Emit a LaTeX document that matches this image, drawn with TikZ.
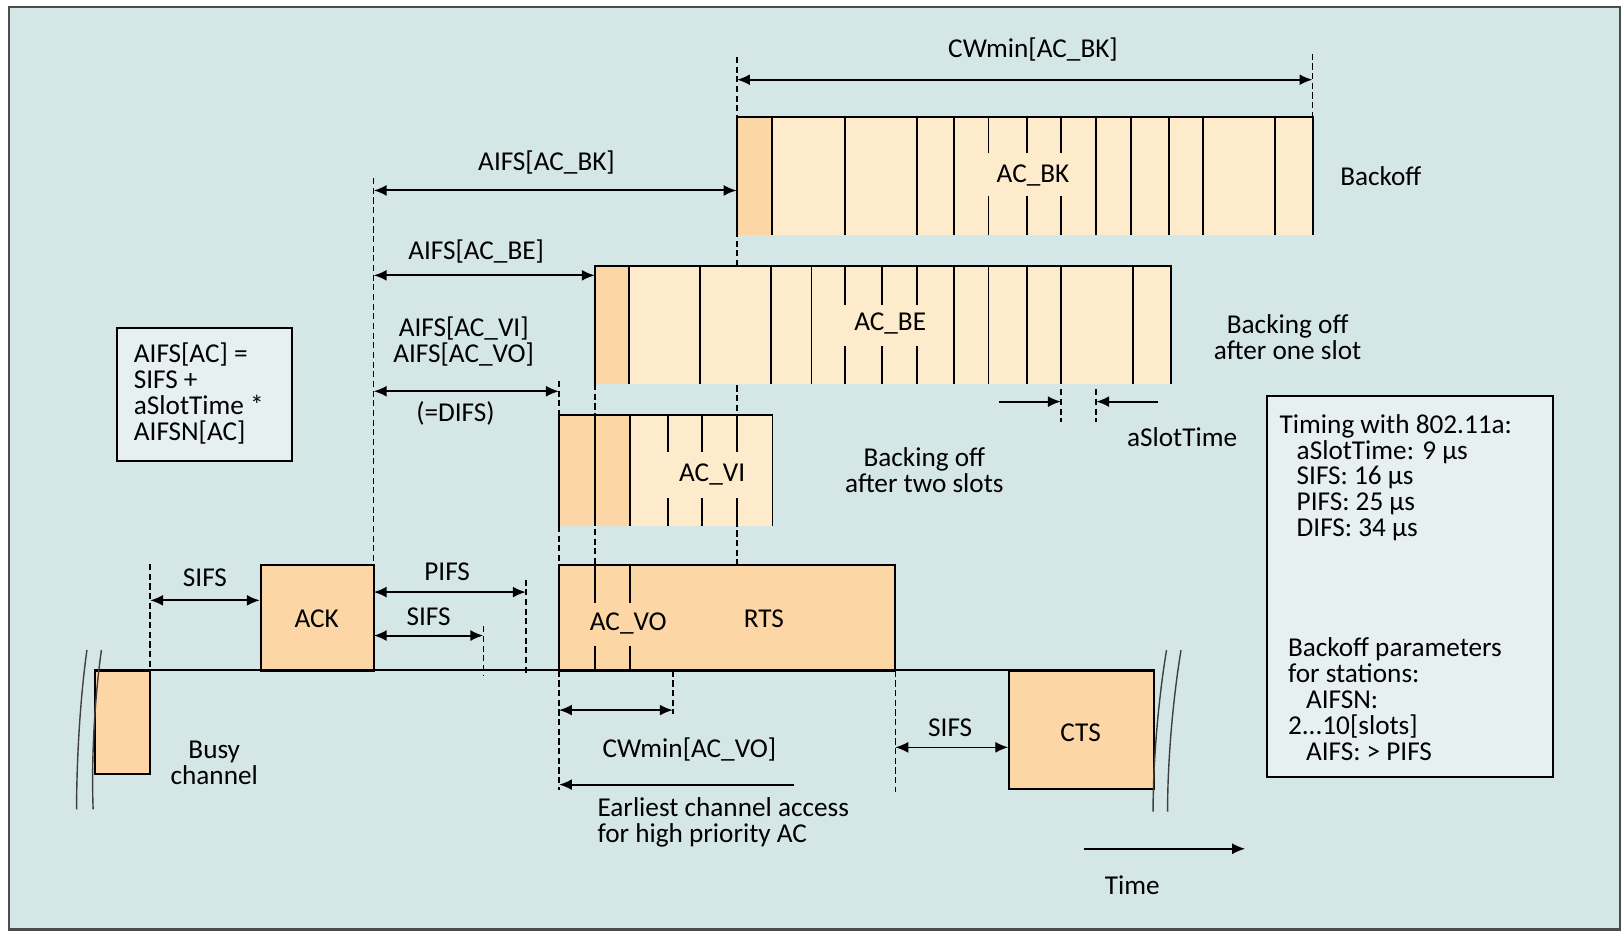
\documentclass[tikz,border=0pt]{standalone}
\usepackage{fontspec}
\setmainfont{Carlito}
\usepackage{xcolor}
\usetikzlibrary{positioning,arrows.meta,fit}

\definecolor{panel}{HTML}{D5E6E6}
\definecolor{note}{HTML}{E7F0F0}
\definecolor{busy}{HTML}{FDD6A6}
\definecolor{idle}{HTML}{FDEBCC}

\begin{document}
\begin{tikzpicture}[
  x=0.0207cm, y=-0.0207cm,
  font=\fontsize{15.5}{14.7}\selectfont,
  pkt/.style     = {draw, line width=1.1pt, fill=busy, inner sep=0pt},
  backoff/.style = {fill=idle, inner sep=0pt},
  notebox/.style = {draw, line width=1.1pt, fill=note, inner sep=0pt},
  lbl/.style     = {inner sep=1pt, align=center},
  txt/.style     = {inner sep=0pt, align=left, anchor=north west},
  guide/.style   = {line width=0.9pt, dash pattern=on 3.5pt off 2pt},
  slot/.style    = {line width=1.1pt},
  brk/.style     = {line width=0.8pt, black!75},
  dim/.style     = {{Latex[length=2.6mm,width=2.2mm]}-{Latex[length=2.6mm,width=2.2mm]}, line width=1.1pt},
  flow/.style    = {-{Latex[length=2.6mm,width=2.2mm]}, line width=1.1pt},
]

% ---------- panel ----------
\useasboundingbox (0,0) rectangle (1568,900);
\draw[draw=black!70, line width=1.3pt, fill=panel] (9,7) rectangle (1565,898);

% ---------- guide lines ----------
\draw[guide] (145,545) -- (145,648);
\draw[guide] (361,172) -- (361,546);
\draw[guide] (467,605) -- (467,653);
\draw[guide] (508,560) -- (508,653);
\draw[guide] (540,368) -- (540,763);
\draw[guide] (575,371) -- (575,546);
\draw[guide] (650,648) -- (650,690);
\draw[guide] (712,55) -- (712,546);
\draw[guide] (865,648) -- (865,765);
\draw[guide] (1268,52) -- (1268,113);
\draw[guide] (1025,376) -- (1025,408);
\draw[guide] (1059,376) -- (1059,408);

% ---------- backoff AC_BK ----------
\node[backoff, fit={(712,113)(1268,227)}] (bk) {};
\fill[busy] (bk.north west) rectangle (746,227);
\draw[slot] (bk.south west) -- (bk.north west) -- (bk.north east) -- (bk.south east);
\foreach \x in {746,816,886,922,1059,1093,1129,1162,1232}
  \draw[slot] (\x,113) -- (\x,227);
\foreach \x in {955,992,1025}
  \draw[slot] (\x,113) -- (\x,148) (\x,189) -- (\x,227);
\node[lbl] (bklbl) at (998,170) {AC\_BK};
\node[lbl] (bkside) at (1334,170) {Backoff};

% ---------- backoff AC_BE ----------
\node[backoff, fit={(575,257)(1131,371)}] (be) {};
\fill[busy] (be.north west) rectangle (608,371);
\draw[slot] (be.south west) -- (be.north west) -- (be.north east) -- (be.south east);
\foreach \x in {608,676,745,784,922,955,992,1025,1095}
  \draw[slot] (\x,257) -- (\x,371);
\foreach \x in {816,852,886}
  \draw[slot] (\x,257) -- (\x,295) (\x,334) -- (\x,371);
\node[lbl] (belbl) at (860,313) {AC\_BE};
\node[lbl] (beside) at (1244,326) {Backing off\\after one slot};

% ---------- backoff AC_VI ----------
\node[backoff, fit={(540,401)(746,508)}] (vi) {};
\fill[busy] (vi.north west) rectangle (609,508);
\draw[slot] (vi.south west) -- (vi.north west) -- (vi.north east) -- (vi.south east);
\draw[slot] (575,401) -- (575,508) (609,401) -- (609,508);
\foreach \x in {645,678,712}
  \draw[slot] (\x,401) -- (\x,437) (\x,481) -- (\x,508);
\node[lbl] (vilbl) at (688,458) {AC\_VI};
\node[lbl] (viside) at (893,454) {Backing off\\after two slots};

% ---------- channel ----------
\node[pkt, fit={(92,648)(145,748)}] (busybox) {};
\node[lbl] (busylbl) at (207,737) {Busy\\channel};
\node[pkt, fit={(252,546)(361,648)}] (ack) {};
\node[lbl] (acklbl) at (306,598) {ACK};
\node[pkt, fit={(540,546)(865,648)}] (rts) {};
\node[lbl] (rtslbl) at (738,598) {RTS};
\draw[slot] (575,546) -- (575,583) (575,624) -- (575,648)
            (609,546) -- (609,583) (609,624) -- (609,648);
\node[lbl] (volbl) at (607,602) {AC\_VO};
\node[pkt, fit={(975,648)(1115,762)}] (cts) {};
\node[lbl] (ctslbl) at (1044,708) {CTS};
\draw[slot] (busybox.north west) -- (cts.north east);

% line breaks
\draw[brk] (84,628) .. controls (78,670) and (74,730) .. (74,782);
\draw[brk] (98,628) .. controls (92,670) and (88,730) .. (90,782);
\draw[brk] (1127,628) .. controls (1120,670) and (1114,730) .. (1114,784);
\draw[brk] (1141,628) .. controls (1134,670) and (1128,730) .. (1128,784);

% ---------- intervals ----------
\coordinate (cwbkL) at (712,77);
\coordinate (cwbkR) at (1268,77);
\draw[dim] (cwbkL) -- (cwbkR);
\node[lbl] (cwbklbl) at (998,48) {CWmin[AC\_BK]};

\coordinate (aifsbk) at (361,184);
\draw[dim] (aifsbk) -- (bk.west |- aifsbk);
\node[lbl] (aifsbklbl) at (528,157) {AIFS[AC\_BK]};

\coordinate (aifsbe) at (361,266);
\draw[dim] (aifsbe) -- (be.west |- aifsbe);
\node[lbl] (aifsbelbl) at (460,243) {AIFS[AC\_BE]};

\coordinate (difsL) at (361,378);
\coordinate (difsR) at (540,378);
\draw[dim] (difsL) -- (difsR);
\node[lbl] (aifsvilbl) at (448,330) {AIFS[AC\_VI]\\AIFS[AC\_VO]};
\node[lbl] (difslbl) at (440,399) {(=DIFS)};

\coordinate (slotA) at (965,388);
\coordinate (slotB) at (1025,388);
\coordinate (slotC) at (1119,388);
\coordinate (slotD) at (1059,388);
\draw[flow] (slotA) -- (slotB);
\draw[flow] (slotC) -- (slotD);
\node[lbl] (slotlbl) at (1142,422) {aSlotTime};

\coordinate (sifsA) at (145,580);
\draw[dim] (sifsA) -- (ack.west |- sifsA);
\node[lbl] (sifsAlbl) at (198,558) {SIFS};

\coordinate (pifsL) at (361,572);
\coordinate (pifsR) at (508,572);
\draw[dim] (pifsL) -- (pifsR);
\node[lbl] (pifslbl) at (432,552) {PIFS};

\coordinate (sifsL) at (361,614);
\coordinate (sifsR) at (467,614);
\draw[dim] (sifsL) -- (sifsR);
\node[lbl] (sifslbl) at (414,596) {SIFS};

\coordinate (cwvoL) at (540,686);
\coordinate (cwvoR) at (650,686);
\draw[dim] (cwvoL) -- (cwvoR);
\node[lbl] (cwvolbl) at (666,724) {CWmin[AC\_VO]};

\coordinate (earlyA) at (767,758);
\coordinate (earlyB) at (540,758);
\draw[flow] (earlyA) -- (earlyB);
\node[txt] (earlylbl) at (577,770) {Earliest channel access\\for high priority AC};

\coordinate (sifsC) at (865,722);
\draw[dim, line width=0.8pt] (sifsC) -- (cts.west |- sifsC);
\node[lbl] (sifsClbl) at (918,703) {SIFS};

\coordinate (timeA) at (1047,820);
\coordinate (timeB) at (1203,820);
\draw[flow] (timeA) -- (timeB);
\node[lbl] (timelbl) at (1094,855) {Time};

% ---------- notes ----------
\node[notebox, fit={(113,317)(282,445)}] (aifsnote) {};
\node[txt] (aifstxt) at (129,331) {AIFS[AC] =\\SIFS +\\aSlotTime *\\AIFSN[AC]};

\node[notebox, fit={(1224,383)(1500,751)}] (timing) {};
\node[txt] (timingtxt) at (1236,400) {Timing with 802.11a:\\
  \hspace*{0.34cm}aSlotTime: 9 µs\\
  \hspace*{0.34cm}SIFS: 16 µs\\
  \hspace*{0.34cm}PIFS: 25 µs\\
  \hspace*{0.34cm}DIFS: 34 µs};
\node[txt] (paramtxt) at (1244,616) {Backoff parameters\\for stations:\\
  \hspace*{0.36cm}AIFSN:\\2...10[slots]\\
  \hspace*{0.36cm}AIFS: > PIFS};

\end{tikzpicture}
\end{document}
